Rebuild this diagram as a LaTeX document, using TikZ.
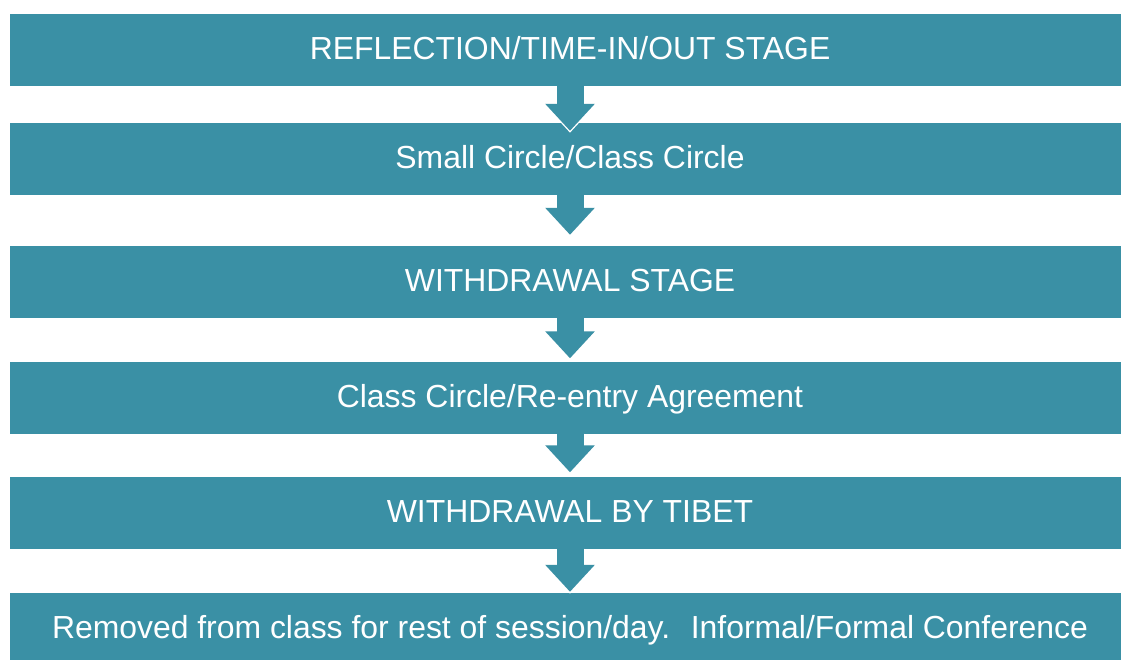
\documentclass[tikz,border=0pt]{standalone}
\usepackage{fontspec}
\setmainfont{Liberation Sans}
\usetikzlibrary{arrows.meta}
\definecolor{stufe}{HTML}{3A90A5}
\begin{document}
\begin{tikzpicture}[x=1pt, y=-1pt,
    box/.style={fill=stufe, text=white, minimum width=1120pt, minimum height=72pt,
        inner sep=0pt, text height=24pt, text depth=5pt, font=\fontsize{31.9}{36}\selectfont},
    flow/.style={stufe, line width=27pt, -{Triangle[width=48pt,length=27pt]}, shorten >=#1,
        preaction={draw=white, line width=30pt, -{Triangle[width=53pt,length=30pt]}, shorten >=#1-2pt}}]
    \useasboundingbox (0,0) rectangle (1121,660);

    % Stufen
    \node[box] (b1) at (570,50) {REFLECTION/TIME-IN/OUT STAGE};
    \node[box] (b2) at (570,159) {Small Circle/Class Circle};
    \node[box] (b3) at (570,282) {WITHDRAWAL STAGE};
    \node[box] (b4) at (570,397.5) {Class Circle/Re-entry Agreement};
    \node[box] (b5) at (570,512.5) {WITHDRAWAL BY TIBET};
    \node[box] (b6) at (570,629) {Removed from class for rest of session/day.~ Informal/Formal Conference};

    % Pfeile
    \draw[flow=-8pt] (b1.south) -- (b2.north);
    \draw[flow=11pt] (b2.south) -- (b3.north);
    \draw[flow=3pt] (b3.south) -- (b4.north);
    \draw[flow=4pt] (b4.south) -- (b5.north);
    \draw[flow=1pt] (b5.south) -- (b6.north);
\end{tikzpicture}
\end{document}
